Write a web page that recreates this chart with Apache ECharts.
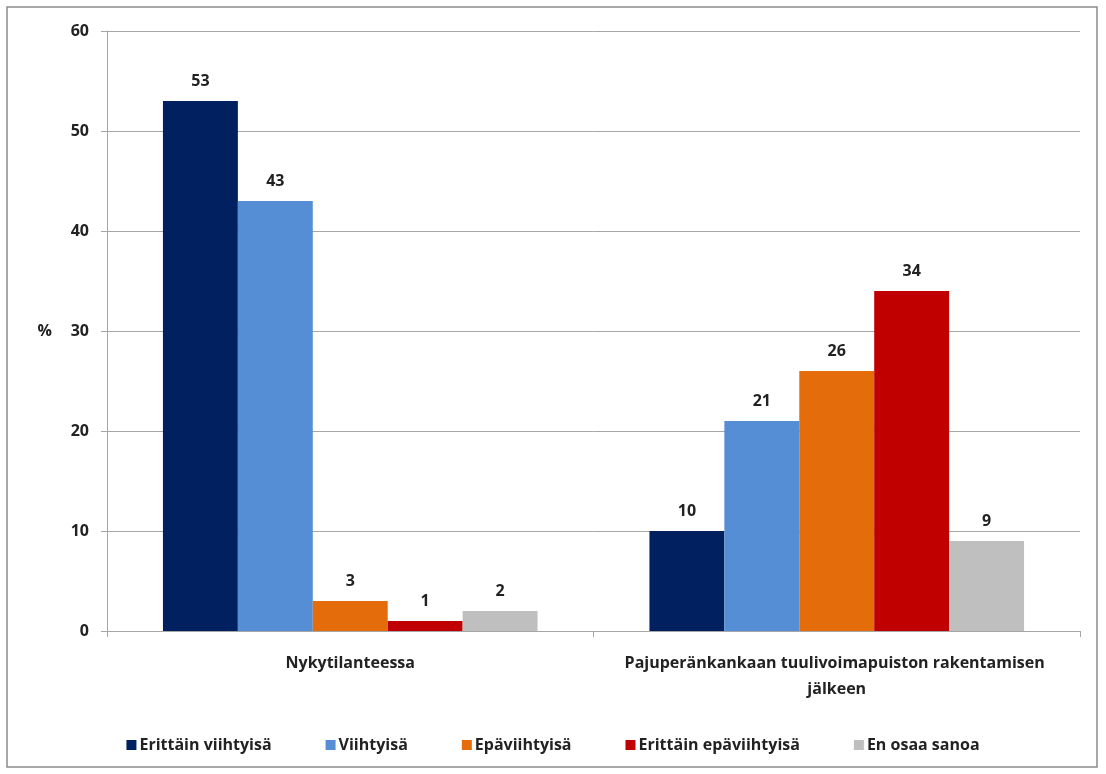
<!DOCTYPE html>
<html>
<head>
<meta charset="utf-8">
<script src="https://cdn.jsdelivr.net/npm/echarts@6/dist/echarts.min.js"></script>
<style>
    html, body { margin: 0; padding: 0; background: #fff; }
    #chart { width: 1106px; height: 774px; }
</style>
</head>
<body>
<div id="chart"></div>
<script>
// data
var categories = ['Nykytilanteessa', 'Pajuperänkankaan tuulivoimapuiston rakentamisen jälkeen'];
var seriesNames = ['Erittäin viihtyisä', 'Viihtyisä', 'Epäviihtyisä', 'Erittäin epäviihtyisä', 'En osaa sanoa'];
var erittainViihtyisa = [53, 10];
var viihtyisa = [43, 21];
var epaviihtyisa = [3, 26];
var erittainEpaviihtyisa = [1, 34];
var enOsaaSanoa = [2, 9];
var yTicks = [0, 10, 20, 30, 40, 50, 60];

var colors = ['#00205f', '#558ed5', '#e46c0a', '#c00000', '#bfbfbf'];
var values = [erittainViihtyisa, viihtyisa, epaviihtyisa, erittainEpaviihtyisa, enOsaaSanoa];
var font = "'Open Sans', 'Noto Sans', sans-serif";

var chart = echarts.init(document.getElementById('chart'));

var series = seriesNames.map(function (name, i) {
    return {
        name: name,
        type: 'bar',
        barGap: '0%',
        barCategoryGap: '23%',
        data: values[i],
        itemStyle: { color: colors[i] },
        label: {
            show: true,
            position: 'top',
            distance: 12,
            color: '#222',
            fontFamily: font,
            fontWeight: 'bold',
            fontSize: 16
        }
    };
});

var option = {
    animation: false,
    color: colors,
    graphic: [{
        type: 'rect',
        shape: { x: 7, y: 7, width: 1090, height: 760 },
        style: { fill: 'none', stroke: '#8c8c8c', lineWidth: 1.5 },
        silent: true
    }],
    grid: { left: 107, right: 26, top: 31, bottom: 143, containLabel: false },
    legend: {
        bottom: 16,
        left: 'center',
        itemWidth: 10,
        itemHeight: 10,
        itemGap: 54,
        icon: 'rect',
        data: seriesNames,
        textStyle: { fontFamily: font, fontWeight: 'bold', fontSize: 16, color: '#222', padding: [0, 0, 0, -2] }
    },
    xAxis: {
        type: 'category',
        data: categories,
        axisLine: { lineStyle: { color: '#a6a6a6', width: 1 } },
        axisTick: { show: true, alignWithLabel: false, length: 6, lineStyle: { color: '#a6a6a6' } },
        axisLabel: {
            interval: 0,
            margin: 19,
            fontFamily: font,
            fontWeight: 'bold',
            fontSize: 16,
            color: '#222',
            lineHeight: 26,
            width: 470,
            overflow: 'break'
        }
    },
    yAxis: {
        type: 'value',
        min: yTicks[0],
        max: yTicks[yTicks.length - 1],
        interval: 10,
        name: '%',
        nameLocation: 'middle',
        nameRotate: 0,
        nameGap: 55,
        nameTextStyle: { fontFamily: font, fontWeight: 'bold', fontSize: 16, color: '#222' },
        axisLine: { show: true, lineStyle: { color: '#a6a6a6' } },
        axisTick: { show: true, length: 6, lineStyle: { color: '#a6a6a6' } },
        splitLine: { lineStyle: { color: '#a6a6a6', width: 1 } },
        axisLabel: {
            margin: 18,
            fontFamily: font,
            fontWeight: 'bold',
            fontSize: 16,
            color: '#222'
        }
    },
    series: series
};

chart.setOption(option);
</script>
</body>
</html>
